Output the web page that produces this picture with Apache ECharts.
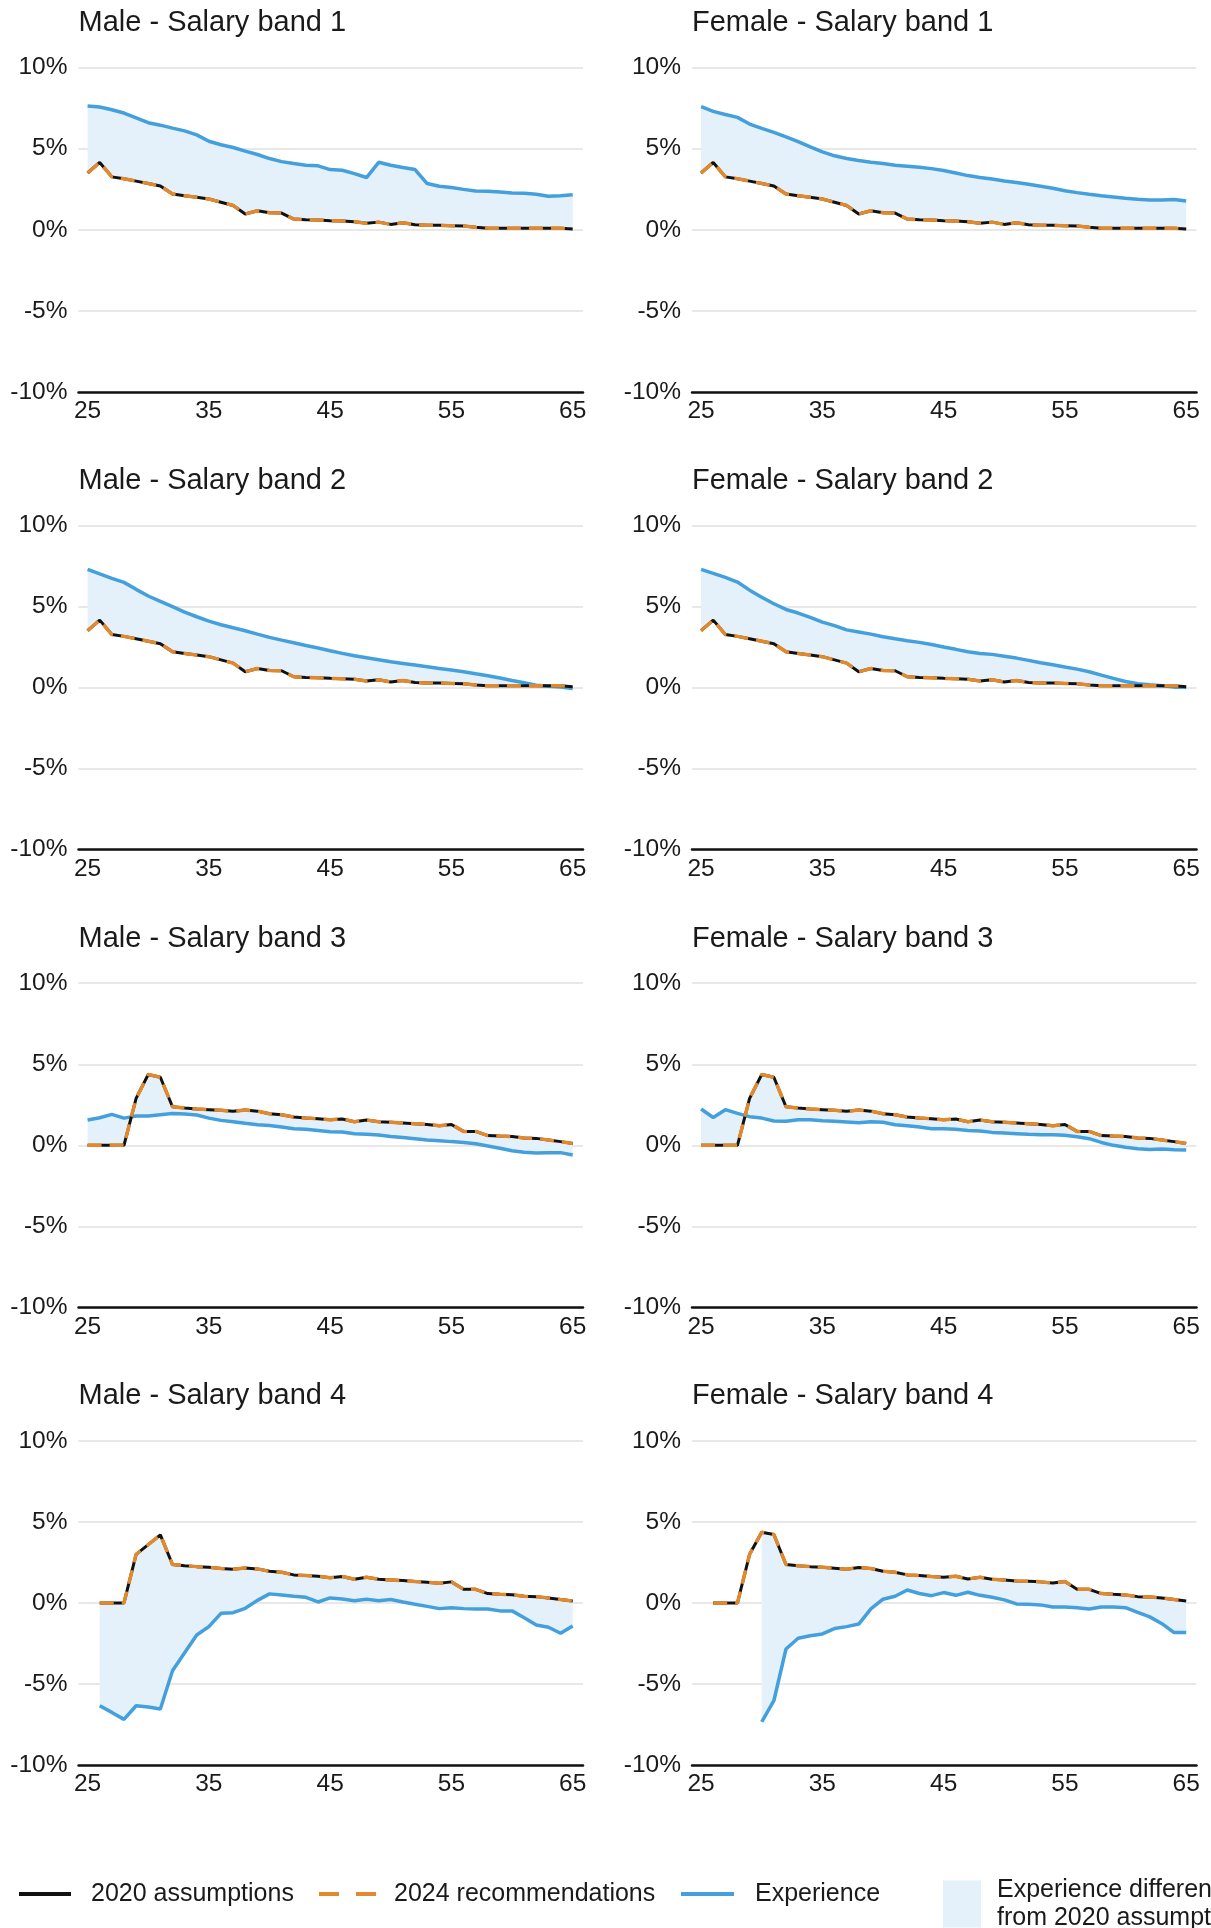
<!DOCTYPE html>
<html>
<head>
<meta charset="utf-8">
<script src="https://cdn.jsdelivr.net/npm/echarts@6/dist/echarts.min.js"></script>
<style>
html,body{margin:0;padding:0;background:#ffffff;}
#chart{width:1211px;height:1928px;}
</style>
</head>
<body>
<div id="chart"></div>
<script>
// ---------- DATA (ages 25..65) ----------
const ages = [25,26,27,28,29,30,31,32,33,34,35,36,37,38,39,40,41,42,43,44,45,46,47,48,49,50,51,52,53,54,55,56,57,58,59,60,61,62,63,64,65];
const xTickLabels = [25,35,45,55,65];
const yTickValues = [-10,-5,0,5,10];

// 2020 assumptions
const assump2020_B12 = [3.5,4.15,3.26,3.15,3.0,2.85,2.7,2.2,2.1,2.0, 1.9,1.7,1.5,0.97,1.17,1.05,1.03,0.66,0.62,0.6, 0.56,0.54,0.5,0.4,0.47,0.33,0.43,0.31,0.27,0.27, 0.25,0.23,0.15,0.1,0.1,0.1,0.1,0.1,0.1,0.1,0.05];
const assump2020_B3 = [0,0,0,0,2.9,4.37,4.2,2.38,2.3,2.24, 2.2,2.16,2.1,2.18,2.11,1.95,1.89,1.75,1.68,1.64, 1.58,1.62,1.46,1.56,1.46,1.42,1.38,1.33,1.29,1.21, 1.29,0.86,0.86,0.6,0.57,0.55,0.45,0.43,0.33,0.23,0.12];
const assump2020_M4 = [null,0,0,0,3.0,3.6,4.2,2.37,2.3,2.24, 2.2,2.12,2.08,2.16,2.1,1.95,1.89,1.73,1.69,1.65, 1.56,1.63,1.46,1.58,1.46,1.42,1.38,1.32,1.28,1.21, 1.3,0.84,0.84,0.58,0.53,0.51,0.41,0.39,0.31,0.21,0.12];
const assump2020_F4 = [null,0,0,0,3.0,4.36,4.22,2.37,2.3,2.24, 2.2,2.14,2.08,2.18,2.12,1.95,1.89,1.73,1.69,1.63, 1.58,1.65,1.48,1.58,1.46,1.42,1.36,1.34,1.3,1.23, 1.32,0.84,0.84,0.58,0.53,0.49,0.39,0.37,0.31,0.21,0.12];

// 2024 recommendations (read as coinciding with the 2020 assumptions)
const rec2024_B12 = [3.5,4.15,3.26,3.15,3.0,2.85,2.7,2.2,2.1,2.0, 1.9,1.7,1.5,0.97,1.17,1.05,1.03,0.66,0.62,0.6, 0.56,0.54,0.5,0.4,0.47,0.33,0.43,0.31,0.27,0.27, 0.25,0.23,0.15,0.1,0.1,0.1,0.1,0.1,0.1,0.1,0.05];
const rec2024_B3 = [0,0,0,0,2.9,4.37,4.2,2.38,2.3,2.24, 2.2,2.16,2.1,2.18,2.11,1.95,1.89,1.75,1.68,1.64, 1.58,1.62,1.46,1.56,1.46,1.42,1.38,1.33,1.29,1.21, 1.29,0.86,0.86,0.6,0.57,0.55,0.45,0.43,0.33,0.23,0.12];
const rec2024_M4 = [null,0,0,0,3.0,3.6,4.2,2.37,2.3,2.24, 2.2,2.12,2.08,2.16,2.1,1.95,1.89,1.73,1.69,1.65, 1.56,1.63,1.46,1.58,1.46,1.42,1.38,1.32,1.28,1.21, 1.3,0.84,0.84,0.58,0.53,0.51,0.41,0.39,0.31,0.21,0.12];
const rec2024_F4 = [null,0,0,0,3.0,4.36,4.22,2.37,2.3,2.24, 2.2,2.14,2.08,2.18,2.12,1.95,1.89,1.73,1.69,1.63, 1.58,1.65,1.48,1.58,1.46,1.42,1.36,1.34,1.3,1.23, 1.32,0.84,0.84,0.58,0.53,0.49,0.39,0.37,0.31,0.21,0.12];

// Experience
const expM1 = [7.63,7.57,7.4,7.2,6.9,6.6,6.45,6.27,6.1,5.85, 5.46,5.24,5.07,4.85,4.64,4.39,4.2,4.08,3.98,3.94, 3.71,3.67,3.46,3.22,4.16,3.98,3.84,3.71,2.85,2.68, 2.6,2.49,2.39,2.37,2.33,2.27,2.25,2.19,2.06,2.1,2.16];
const expF1 = [7.59,7.3,7.11,6.93,6.52,6.25,6.0,5.73,5.44,5.11, 4.8,4.56,4.39,4.27,4.16,4.08,3.98,3.92,3.86,3.77, 3.65,3.5,3.34,3.22,3.13,3.01,2.91,2.8,2.68,2.56, 2.41,2.29,2.19,2.1,2.02,1.94,1.88,1.84,1.84,1.86,1.77];
const expM2 = [7.28,7.0,6.73,6.48,6.05,5.64,5.31,4.98,4.65,4.36, 4.09,3.87,3.68,3.5,3.29,3.09,2.92,2.76,2.59,2.43, 2.26,2.1,1.95,1.83,1.71,1.58,1.48,1.38,1.28,1.17, 1.07,0.97,0.84,0.72,0.58,0.43,0.29,0.14,0.08,0.02,-0.06];
const expF2 = [7.28,7.04,6.79,6.5,6.0,5.56,5.16,4.81,4.59,4.32, 4.03,3.81,3.55,3.42,3.29,3.13,3.0,2.88,2.78,2.65, 2.49,2.35,2.2,2.1,2.04,1.93,1.81,1.67,1.52,1.4, 1.26,1.13,0.97,0.76,0.56,0.37,0.23,0.16,0.1,0.02,0.02];
const expM3 = [1.56,1.7,1.91,1.68,1.81,1.81,1.89,1.97,1.93,1.87, 1.68,1.54,1.46,1.36,1.27,1.23,1.13,1.03,0.99,0.92, 0.84,0.82,0.72,0.68,0.64,0.55,0.49,0.41,0.33,0.29, 0.23,0.18,0.1,-0.04,-0.18,-0.33,-0.43,-0.47,-0.45,-0.45,-0.6];
const expF3 = [2.24,1.72,2.2,1.97,1.77,1.68,1.5,1.48,1.58,1.58, 1.52,1.48,1.44,1.4,1.46,1.42,1.27,1.21,1.13,1.03, 1.03,0.99,0.92,0.88,0.8,0.76,0.72,0.68,0.66,0.66, 0.62,0.53,0.41,0.18,0.0,-0.12,-0.21,-0.25,-0.23,-0.27,-0.29];
const expM4 = [null,-6.34,-6.75,-7.18,-6.34,-6.42,-6.54,-4.18,-3.07,-1.98, -1.46,-0.64,-0.6,-0.33,0.16,0.56,0.49,0.41,0.35,0.06, 0.31,0.25,0.14,0.23,0.14,0.21,0.06,-0.08,-0.21,-0.35, -0.29,-0.35,-0.37,-0.37,-0.49,-0.49,-0.91,-1.36,-1.5,-1.87,-1.42];
const expF4 = [null,null,null,null,null,-7.33,-6.03,-2.84,-2.18,-2.02, -1.91,-1.58,-1.46,-1.3,-0.37,0.23,0.41,0.8,0.58,0.45, 0.64,0.47,0.66,0.47,0.35,0.19,-0.06,-0.08,-0.12,-0.25, -0.25,-0.29,-0.37,-0.25,-0.25,-0.29,-0.58,-0.86,-1.28,-1.83,-1.83];

const panelTitles = ['Male - Salary band 1','Female - Salary band 1','Male - Salary band 2','Female - Salary band 2','Male - Salary band 3','Female - Salary band 3','Male - Salary band 4','Female - Salary band 4'];
const seriesNames = ['2020 assumptions','2024 recommendations','Experience','Experience difference from 2020 assumptions'];

// ---------- STYLE / LAYOUT ----------
const FONT = "'Liberation Sans', Arial, Helvetica, sans-serif";
const TXT = '#1a1a1a';
const C_BLACK = '#111111', C_ORANGE = '#e0892e', C_BLUE = '#43a0dc', C_FILL = '#e4f1fa', C_GRID = '#e8e8e8';
const colLeft = [78.5, 692], gridW = 504.5;
const rowTop = [67.6, 525.3, 983.2, 1440.8], gridH = 324.3;

const panels = [
  {a: assump2020_B12, r: rec2024_B12, e: expM1},
  {a: assump2020_B12, r: rec2024_B12, e: expF1},
  {a: assump2020_B12, r: rec2024_B12, e: expM2},
  {a: assump2020_B12, r: rec2024_B12, e: expF2},
  {a: assump2020_B3, r: rec2024_B3, e: expM3},
  {a: assump2020_B3, r: rec2024_B3, e: expF3},
  {a: assump2020_M4, r: rec2024_M4, e: expM4},
  {a: assump2020_F4, r: rec2024_F4, e: expF4}
];

const grids = [], xAxes = [], yAxes = [], series = [], graphics = [];
panels.forEach((p, i) => {
  const col = i % 2, row = Math.floor(i / 2);
  const left = colLeft[col], top = rowTop[row];
  grids.push({left: left, top: top, width: gridW, height: gridH});
  xAxes.push({
    type: 'value', gridIndex: i, min: 24.25, max: 65.85,
    axisLine: {show: true, onZero: false, lineStyle: {color: '#111111', width: 2.5}},
    axisTick: {show: false},
    splitLine: {show: false},
    axisLabel: {customValues: xTickLabels, margin: 7, fontSize: 24.5, color: TXT, fontFamily: FONT}
  });
  yAxes.push({
    type: 'value', gridIndex: i, min: -10, max: 10, interval: 5,
    axisLine: {show: false}, axisTick: {show: false},
    splitLine: {show: true, lineStyle: {color: C_GRID, width: 2}},
    axisLabel: {formatter: '{value}%', margin: 11, fontSize: 24.5, color: TXT, fontFamily: FONT}
  });
  graphics.push({
    type: 'text', left: left, top: top - 46.4 - 12.5,
    style: {text: panelTitles[i], fontSize: 29, fontFamily: FONT, fill: TXT}
  });
  // shaded difference between experience and 2020 assumptions
  series.push({
    type: 'custom', name: seriesNames[3], xAxisIndex: i, yAxisIndex: i, silent: true,
    itemStyle: {color: C_FILL}, z: 1,
    data: [[ages[0], 0]],
    renderItem: function (params, api) {
      if (params.dataIndex !== 0) return null;
      const upper = [], lower = [];
      ages.forEach((x, j) => {
        if (p.e[j] != null && p.a[j] != null) {
          upper.push(api.coord([x, p.e[j]]));
          lower.push(api.coord([x, p.a[j]]));
        }
      });
      return {type: 'polygon', shape: {points: upper.concat(lower.reverse())}, style: {fill: C_FILL}};
    }
  });
  series.push({
    type: 'line', name: seriesNames[2], xAxisIndex: i, yAxisIndex: i, z: 2,
    data: ages.map((x, j) => [x, p.e[j]]), symbol: 'none', connectNulls: false,
    lineStyle: {color: C_BLUE, width: 3.5}, itemStyle: {color: C_BLUE}
  });
  series.push({
    type: 'line', name: seriesNames[0], xAxisIndex: i, yAxisIndex: i, z: 3,
    data: ages.map((x, j) => [x, p.a[j]]), symbol: 'none', connectNulls: false,
    lineStyle: {color: C_BLACK, width: 3}, itemStyle: {color: C_BLACK}
  });
  series.push({
    type: 'line', name: seriesNames[1], xAxisIndex: i, yAxisIndex: i, z: 4,
    data: ages.map((x, j) => [x, p.r[j]]), symbol: 'none', connectNulls: false,
    lineStyle: {color: C_ORANGE, width: 3.5, type: [14, 8]}, itemStyle: {color: C_ORANGE}
  });
});

const legTxt = {fontSize: 25, fontFamily: FONT, color: TXT};
const LEG_TOP = 1881.5;
const legends = [
  {data: [{name: seriesNames[0], icon: 'rect', itemStyle: {color: C_BLACK}}], left: 19, top: LEG_TOP, itemWidth: 52, itemHeight: 4, padding: 0,
   textStyle: Object.assign({padding: [0, 0, 0, 15]}, legTxt), selectedMode: false},
  {data: [{name: seriesNames[1], icon: 'path://M0,0H20V4H0Z M37,0H57V4H37Z', itemStyle: {color: C_ORANGE}}], left: 319, top: LEG_TOP, itemWidth: 57, itemHeight: 4, padding: 0,
   textStyle: Object.assign({padding: [0, 0, 0, 13]}, legTxt), selectedMode: false},
  {data: [{name: seriesNames[2], icon: 'rect', itemStyle: {color: C_BLUE}}], left: 681, top: LEG_TOP, itemWidth: 53, itemHeight: 4, padding: 0,
   textStyle: Object.assign({padding: [0, 0, 0, 16]}, legTxt), selectedMode: false},
  {data: [{name: seriesNames[3], icon: 'rect', itemStyle: {color: C_FILL}}], left: 943, top: 1876, itemWidth: 38, itemHeight: 47, padding: 0,
   formatter: function () { return 'Experience difference\nfrom 2020 assumptions'; },
   textStyle: Object.assign({padding: [0, 0, 0, 11], lineHeight: 28}, legTxt), selectedMode: false}
];

const chart = echarts.init(document.getElementById('chart'), null, {renderer: 'canvas'});
chart.setOption({
  animation: false,
  backgroundColor: '#ffffff',
  textStyle: {fontFamily: FONT},
  grid: grids,
  xAxis: xAxes,
  yAxis: yAxes,
  legend: legends,
  graphic: graphics,
  series: series
});
</script>
</body>
</html>
